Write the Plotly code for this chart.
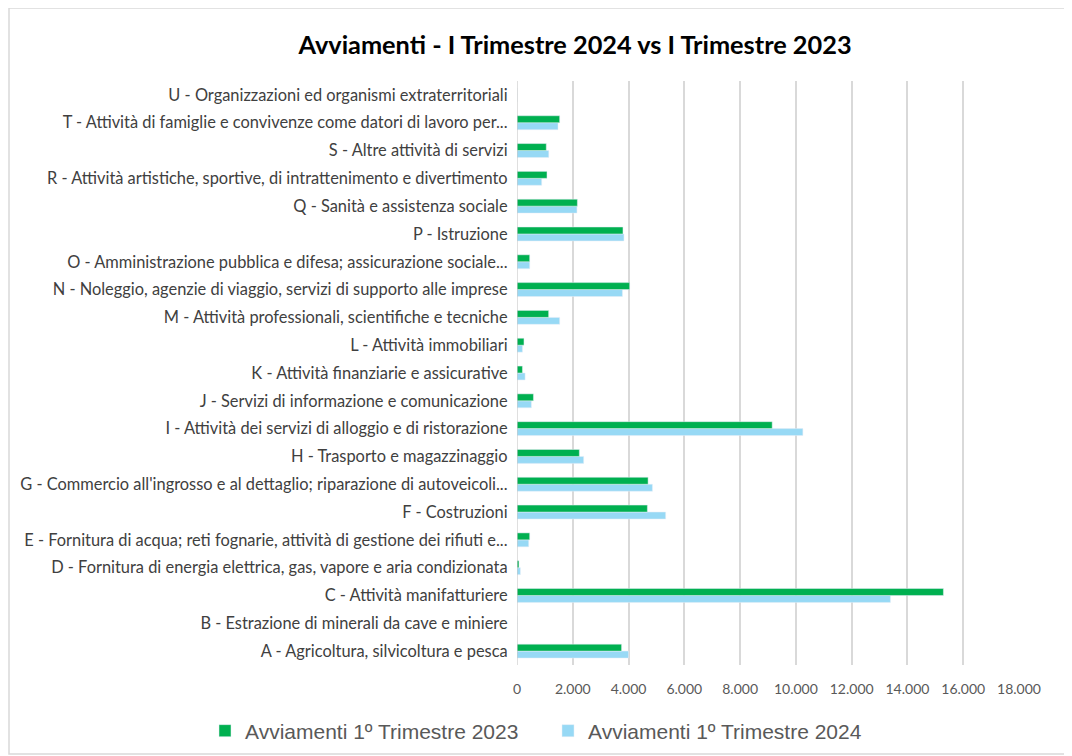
import plotly.graph_objects as go

categories = [
    "A - Agricoltura, silvicoltura e pesca",
    "B - Estrazione di minerali da cave e miniere",
    "C - Attività manifatturiere",
    "D - Fornitura di energia elettrica, gas, vapore e aria condizionata",
    "E - Fornitura di acqua; reti fognarie, attività di gestione dei rifiuti e...",
    "F - Costruzioni",
    "G - Commercio all'ingrosso e al dettaglio; riparazione di autoveicoli...",
    "H - Trasporto e magazzinaggio",
    "I - Attività dei servizi di alloggio e di ristorazione",
    "J - Servizi di informazione e comunicazione",
    "K - Attività finanziarie e assicurative",
    "L - Attività immobiliari",
    "M - Attività professionali, scientifiche e tecniche",
    "N - Noleggio, agenzie di viaggio, servizi di supporto alle imprese",
    "O - Amministrazione pubblica e difesa; assicurazione sociale...",
    "P - Istruzione",
    "Q - Sanità e assistenza sociale",
    "R - Attività artistiche, sportive, di intrattenimento e divertimento",
    "S - Altre attività di servizi",
    "T - Attività di famiglie e convivenze come datori di lavoro per...",
    "U - Organizzazioni ed organismi extraterritoriali",
]

avviamenti_2023 = [3750, 0, 15290, 70, 455, 4675, 4700, 2235, 9150, 590, 195, 250,
                   1135, 4040, 455, 3800, 2165, 1075, 1050, 1530, 0]
avviamenti_2024 = [4000, 0, 13390, 120, 420, 5330, 4855, 2390, 10250, 515, 290, 195,
                   1530, 3780, 455, 3835, 2150, 885, 1140, 1470, 0]

tick_vals = list(range(0, 18001, 2000))
tick_text = ["0", "2.000", "4.000", "6.000", "8.000", "10.000", "12.000", "14.000", "16.000", "18.000"]

GREEN = "#00B050"
BLUE = "#97D9F5"
FONT = "Lato"

fig = go.Figure()
fig.add_trace(go.Bar(
    y=categories, x=avviamenti_2024, orientation="h",
    name="Avviamenti 1º Trimestre 2024", marker_color=BLUE, legendrank=2,
))
fig.add_trace(go.Bar(
    y=categories, x=avviamenti_2023, orientation="h",
    name="Avviamenti 1º Trimestre 2023", marker_color=GREEN, legendrank=1,
))

# the page body has an 8px margin, so figure coords = screen coords - 8
OFF = 8
W, H = 1072 - OFF, 756 - OFF
L = 517 - OFF
R = W - (1019 - OFF)
T = 81 - OFF
B = H - (665 - OFF)
pw = W - L - R
ph = H - T - B

def px(x):
    return (x - OFF - L) / pw

def py(y):
    return (H - B - (y - OFF)) / ph

fig.update_layout(
    width=W, height=H,
    margin=dict(l=L, r=R, t=T, b=B, autoexpand=False),
    paper_bgcolor="white", plot_bgcolor="white",
    barmode="group", bargap=0.5, bargroupgap=0,
    font=dict(family=FONT, color="#404040"),
    title=dict(
        text="<b>Avviamenti - I Trimestre 2024 vs I Trimestre 2023</b>",
        x=(575 - OFF) / W, xanchor="center", y=1 - (45 - OFF) / H, yanchor="middle",
        font=dict(family=FONT, size=25.3, color="#000000"),
    ),
    showlegend=True,
    legend=dict(
        orientation="h", x=px(205), xanchor="left", y=py(731), yanchor="middle",
        font=dict(family="Liberation Sans Narrow, Arial Narrow, sans-serif", size=21, color="#595959"),
        itemwidth=30, entrywidth=298,
    ),
    xaxis=dict(
        range=[0, 18000], tickvals=tick_vals, ticktext=tick_text,
        showgrid=True, gridcolor="#D9D9D9", gridwidth=1.5,
        zeroline=False, showline=False, ticks="", automargin=False,
        ticklabelstandoff=14,
        tickfont=dict(family=FONT, size=14, color="#595959"),
    ),
    yaxis=dict(
        categoryorder="array", categoryarray=categories,
        showgrid=False, zeroline=False, showline=False, ticks="", automargin=False,
        tickfont=dict(family=FONT, size=16.4, color="#404040"),
        ticksuffix="  ",
    ),
    shapes=[
        dict(type="line", xref="x", yref="paper", x0=0, x1=0, y0=0, y1=1,
             line=dict(color="#BFBFBF", width=1)),
        dict(type="rect", xref="paper", yref="paper",
             x0=px(9), x1=px(1066), y0=py(754), y1=py(8),
             line=dict(color="#D9D9D9", width=1.5), fillcolor="rgba(0,0,0,0)", layer="below"),
    ],
)

fig.write_html("out.html")
